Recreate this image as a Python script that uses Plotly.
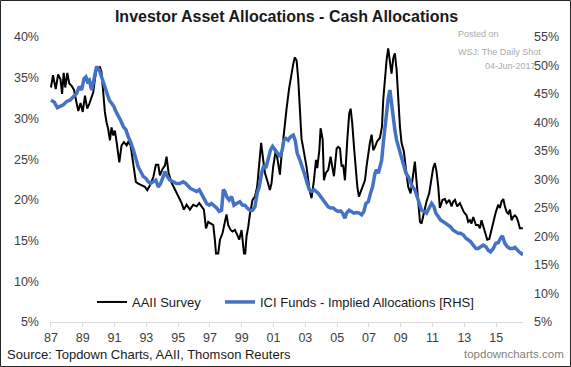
import plotly.graph_objects as go

# ---------------- data ----------------
aaii_year = [
    1987.00, 1987.13, 1987.30, 1987.45, 1987.60, 1987.70, 1987.80, 1987.90, 1988.03, 1988.15,
    1988.30, 1988.45, 1988.57, 1988.72, 1988.86, 1989.00, 1989.14, 1989.28, 1989.41, 1989.56,
    1989.66, 1989.77, 1989.87, 1990.08, 1990.18, 1990.29, 1990.39, 1990.50, 1990.60, 1990.71,
    1990.81, 1990.92, 1991.02, 1991.13, 1991.30, 1991.44, 1991.59, 1991.76, 1991.86, 1992.01,
    1992.13, 1992.22, 1992.34, 1992.49, 1992.70, 1992.91, 1993.06, 1993.23, 1993.44, 1993.60,
    1993.75, 1993.85, 1994.02, 1994.17, 1994.27, 1994.40, 1994.59, 1994.80, 1995.01, 1995.22,
    1995.36, 1995.53, 1995.74, 1995.95, 1996.16, 1996.33, 1996.47, 1996.62, 1996.75, 1996.89,
    1997.04, 1997.21, 1997.31, 1997.38, 1997.52, 1997.63, 1997.79, 1997.94, 1998.04, 1998.15,
    1998.30, 1998.42, 1998.57, 1998.72, 1998.84, 1998.99, 1999.14, 1999.22, 1999.30, 1999.41,
    1999.51, 1999.68, 1999.83, 1999.97, 2000.10, 2000.22, 2000.35, 2000.46, 2000.60, 2000.77,
    2000.87, 2000.98, 2001.15, 2001.30, 2001.40, 2001.50, 2001.65, 2001.82, 2001.98, 2002.13,
    2002.24, 2002.34, 2002.45, 2002.55, 2002.66, 2002.76, 2002.91, 2003.08, 2003.25, 2003.39,
    2003.54, 2003.67, 2003.75, 2003.88, 2003.96, 2004.09, 2004.17, 2004.29, 2004.44, 2004.59,
    2004.69, 2004.80, 2004.97, 2005.07, 2005.18, 2005.28, 2005.38, 2005.49, 2005.64, 2005.76,
    2005.85, 2005.95, 2006.06, 2006.16, 2006.27, 2006.37, 2006.47, 2006.60, 2006.75, 2006.85,
    2006.96, 2007.06, 2007.17, 2007.27, 2007.38, 2007.52, 2007.69, 2007.82, 2007.90, 2008.00,
    2008.11, 2008.21, 2008.32, 2008.42, 2008.53, 2008.63, 2008.74, 2008.84, 2008.95, 2009.05,
    2009.20, 2009.33, 2009.47, 2009.62, 2009.74, 2009.89, 2009.99, 2010.10, 2010.21, 2010.31,
    2010.46, 2010.62, 2010.79, 2010.94, 2011.04, 2011.15, 2011.25, 2011.36, 2011.46, 2011.63,
    2011.78, 2011.88, 2012.05, 2012.20, 2012.30, 2012.41, 2012.55, 2012.72, 2012.83, 2012.97,
    2013.14, 2013.24, 2013.35, 2013.45, 2013.56, 2013.73, 2013.87, 2013.98, 2014.08, 2014.19,
    2014.29, 2014.44, 2014.57, 2014.71, 2014.82, 2014.98, 2015.13, 2015.24, 2015.34, 2015.45,
    2015.55, 2015.66, 2015.76, 2015.87, 2015.97, 2016.07, 2016.18, 2016.28, 2016.39, 2016.49,
    2016.68,
]
aaii_cash = [
    33.8, 35.3, 33.6, 35.4, 34.8, 33.0, 35.6, 33.8, 35.6, 34.3,
    34.0, 33.5, 32.3, 30.9, 31.9, 30.8, 32.8, 31.2, 31.8, 32.6,
    33.2, 34.9, 36.1, 36.3, 35.7, 33.2, 30.8, 29.5, 28.7, 27.3,
    28.9, 27.9, 28.5, 27.1, 24.6, 26.7, 27.1, 26.7, 27.1, 26.7,
    25.1, 23.5, 22.2, 22.0, 21.8, 21.6, 21.2, 21.8, 22.8, 24.3,
    24.3, 23.0, 23.8, 24.2, 25.3, 23.3, 22.1, 21.3, 20.3, 19.6,
    18.8, 19.4, 18.8, 19.4, 19.2, 19.6, 19.2, 18.8, 16.5, 17.3,
    17.1, 16.9, 15.1, 13.4, 13.4, 15.1, 15.9, 17.3, 18.2, 16.9,
    16.3, 16.1, 16.3, 15.7, 15.1, 16.3, 13.4, 13.4, 15.5, 16.7,
    18.2, 20.0, 20.4, 21.6, 24.1, 27.0, 24.9, 23.3, 22.4, 21.2,
    22.0, 24.1, 26.2, 24.1, 23.1, 25.4, 28.3, 31.2, 33.7, 35.7,
    36.7, 37.5, 37.1, 34.9, 31.2, 27.5, 25.9, 24.0, 21.4, 20.2,
    22.4, 24.9, 23.9, 26.1, 28.8, 27.4, 22.4, 23.3, 23.7, 25.3,
    24.1, 22.9, 26.3, 26.5, 26.3, 24.1, 24.3, 22.4, 27.4, 30.6,
    31.2, 29.4, 26.5, 24.1, 21.6, 20.4, 21.0, 21.6, 22.4, 24.1,
    25.7, 27.0, 28.0, 26.1, 26.5, 27.2, 27.6, 29.0, 32.3, 35.1,
    37.2, 38.6, 36.6, 35.5, 37.4, 38.0, 36.0, 32.3, 29.0, 27.0,
    25.9, 23.7, 21.6, 20.8, 22.4, 24.7, 22.4, 19.2, 17.3, 17.1,
    18.6, 19.8, 20.8, 22.4, 23.9, 24.5, 23.5, 21.6, 19.0, 20.0,
    20.1, 19.6, 20.0, 19.2, 19.8, 20.0, 19.2, 19.6, 19.2, 18.5,
    18.1, 17.3, 17.5, 17.1, 17.9, 16.9, 16.9, 16.5, 17.5, 16.7,
    15.9, 15.1, 15.2, 16.3, 17.5, 18.5, 19.4, 19.0, 19.8, 20.1,
    19.2, 18.5, 18.3, 18.8, 17.5, 17.9, 18.1, 17.9, 17.3, 16.5,
    16.5,
]

ici_year = [
    1987.00, 1987.20, 1987.40, 1987.57, 1987.78, 1987.99, 1988.20, 1988.40, 1988.61, 1988.78,
    1988.93, 1989.08, 1989.20, 1989.29, 1989.41, 1989.56, 1989.66, 1989.77, 1989.87, 1990.04,
    1990.19, 1990.33, 1990.50, 1990.67, 1990.81, 1990.96, 1991.09, 1991.23, 1991.38, 1991.55,
    1991.72, 1991.86, 1992.01, 1992.18, 1992.35, 1992.49, 1992.64, 1992.81, 1992.97, 1993.12,
    1993.27, 1993.43, 1993.60, 1993.75, 1993.90, 1994.06, 1994.17, 1994.32, 1994.48, 1994.69,
    1994.90, 1995.11, 1995.32, 1995.49, 1995.64, 1995.78, 1995.95, 1996.16, 1996.33, 1996.47,
    1996.62, 1996.79, 1996.96, 1997.10, 1997.25, 1997.42, 1997.58, 1997.73, 1997.84, 1997.94,
    1998.05, 1998.21, 1998.36, 1998.51, 1998.67, 1998.88, 1999.05, 1999.20, 1999.35, 1999.51,
    1999.68, 1999.83, 1999.97, 2000.10, 2000.25, 2000.39, 2000.52, 2000.67, 2000.81, 2000.94,
    2001.09, 2001.23, 2001.40, 2001.55, 2001.65, 2001.78, 2001.92, 2002.07, 2002.24, 2002.36,
    2002.49, 2002.66, 2002.82, 2002.97, 2003.12, 2003.25, 2003.39, 2003.54, 2003.67, 2003.81,
    2003.96, 2004.13, 2004.29, 2004.44, 2004.59, 2004.76, 2004.92, 2005.07, 2005.22, 2005.34,
    2005.49, 2005.59, 2005.76, 2005.91, 2006.06, 2006.22, 2006.39, 2006.54, 2006.68, 2006.81,
    2006.96, 2007.10, 2007.23, 2007.38, 2007.48, 2007.59, 2007.69, 2007.80, 2007.90, 2008.00,
    2008.11, 2008.21, 2008.32, 2008.42, 2008.53, 2008.63, 2008.74, 2008.91, 2009.05, 2009.20,
    2009.33, 2009.47, 2009.62, 2009.74, 2009.89, 2010.04, 2010.16, 2010.31, 2010.46, 2010.62,
    2010.79, 2010.94, 2011.09, 2011.21, 2011.36, 2011.50, 2011.67, 2011.84, 2011.99, 2012.13,
    2012.30, 2012.47, 2012.62, 2012.76, 2012.93, 2013.10, 2013.24, 2013.39, 2013.56, 2013.73,
    2013.87, 2014.02, 2014.19, 2014.36, 2014.50, 2014.65, 2014.82, 2014.98, 2015.13, 2015.28,
    2015.40, 2015.55, 2015.70, 2015.87, 2016.03, 2016.18, 2016.33, 2016.45, 2016.60, 2016.68,
]
ici_cash = [
    43.9, 43.6, 42.6, 42.8, 43.1, 43.7, 43.9, 44.5, 45.1, 46.3,
    45.7, 47.7, 48.0, 47.2, 47.45, 45.7, 46.9, 48.6, 49.8, 49.2,
    48.0, 46.9, 45.1, 43.9, 43.4, 42.8, 41.9, 41.3, 40.4, 39.3,
    38.7, 37.5, 36.6, 35.2, 33.4, 32.2, 31.4, 30.5, 30.2, 29.6,
    29.3, 29.6, 29.9, 28.7, 29.3, 30.5, 31.4, 30.5, 29.9, 29.6,
    29.3, 29.3, 29.6, 29.3, 28.7, 28.4, 28.2, 27.9, 28.2, 27.6,
    26.7, 25.8, 25.5, 25.8, 25.5, 25.0, 24.4, 24.6, 28.2, 27.9,
    27.0, 26.4, 27.0, 25.5, 25.8, 26.1, 25.5, 25.5, 25.0, 24.6,
    24.6, 25.2, 27.6, 28.7, 31.1, 32.5, 32.0, 33.4, 35.2, 35.8,
    35.2, 34.6, 34.0, 35.2, 36.9, 37.2, 36.9, 37.5, 37.8, 36.9,
    34.6, 33.4, 32.2, 30.8, 29.3, 28.2, 27.9, 28.2, 27.9, 27.6,
    27.0, 26.4, 25.8, 25.2, 25.0, 25.0, 24.6, 24.4, 24.5, 24.1,
    23.2, 24.1, 24.6, 24.4, 24.1, 24.2, 24.1, 23.8, 24.4, 25.8,
    26.1, 27.6, 28.7, 31.1, 31.7, 31.1, 32.2, 33.4, 36.3, 39.3,
    42.8, 44.2, 45.7, 43.4, 40.4, 38.7, 36.9, 35.2, 33.4, 32.2,
    31.1, 30.5, 29.3, 28.7, 28.2, 27.0, 25.8, 24.6, 24.4, 24.1,
    25.0, 25.8, 25.2, 24.1, 23.5, 22.9, 22.6, 22.3, 22.0, 21.7,
    21.1, 20.8, 20.55, 20.55, 20.3, 19.7, 19.4, 19.1, 18.5, 17.9,
    17.9, 18.2, 18.5, 18.2, 17.6, 17.3, 17.9, 18.8, 18.9, 19.7,
    20.1, 18.8, 18.2, 17.9, 17.9, 18.1, 17.6, 17.3, 17.0, 16.75,
]

x_tick_years = list(range(1987, 2016, 2))
x_tick_labels = ["87", "89", "91", "93", "95", "97", "99", "01", "03", "05",
                 "07", "09", "11", "13", "15"]
left_ticks = [5, 10, 15, 20, 25, 30, 35, 40]
right_ticks = [5, 10, 15, 20, 25, 30, 35, 40, 45, 50, 55]

# ---------------- layout geometry (pixels) ----------------
W, H = 571, 367
L, R, T, B = 50, 48, 37, 45
PW, PH = W - L - R, H - T - B


def px(x):
    return (x - L) / PW


def py(y):
    return (H - B - y) / PH


FONT = "Liberation Sans, Arial, sans-serif"

fig = go.Figure()
fig.add_trace(go.Scatter(
    x=aaii_year, y=aaii_cash, name="AAII Survey", mode="lines",
    line=dict(color="#000000", width=2), yaxis="y", legend="legend"))
fig.add_trace(go.Scatter(
    x=ici_year, y=ici_cash, name="ICI Funds - Implied Allocations [RHS]", mode="lines",
    line=dict(color="#4472C4", width=3.5), yaxis="y2", legend="legend2"))

legend_common = dict(orientation="h", yanchor="middle", y=py(302), xanchor="left",
                     bgcolor="rgba(0,0,0,0)",
                     font=dict(family=FONT, size=13, color="#1a1a1a"))

fig.update_layout(
    width=W, height=H, autosize=False,
    margin=dict(l=L, r=R, t=T, b=B, pad=0),
    paper_bgcolor="white", plot_bgcolor="white",
    font=dict(family=FONT, size=13, color="#404040"),
    title=dict(text="<b>Investor Asset Allocations - Cash Allocations</b>",
               x=0.5, xref="paper", xanchor="center",
               y=1 - 16 / H, yref="container", yanchor="middle",
               font=dict(family=FONT, size=16, color="#1a1a1a")),
    xaxis=dict(range=[1986.94, 2016.69], tickmode="array", tickvals=x_tick_years,
               ticktext=x_tick_labels, showgrid=False, zeroline=False,
               showline=True, linecolor="#d9d9d9", linewidth=1,
               ticks="outside", ticklen=4, tickcolor="#d9d9d9",
               tickfont=dict(size=12.5, color="#404040")),
    yaxis=dict(range=[5, 40], tickmode="array", tickvals=left_ticks,
               ticktext=[f"{v}%" for v in left_ticks], showgrid=False,
               zeroline=False, showline=False, ticks="", ticklabelstandoff=10,
               tickfont=dict(size=12.5, color="#404040")),
    yaxis2=dict(range=[5, 55], tickmode="array", tickvals=right_ticks,
                ticktext=[f"{v}%" for v in right_ticks], overlaying="y",
                side="right", showgrid=False, zeroline=False, showline=False,
                ticks="", ticklabelstandoff=10,
                tickfont=dict(size=12.5, color="#404040")),
    legend=dict(x=px(92), **legend_common),
    legend2=dict(x=px(220), **legend_common),
    showlegend=True,
)

annots = [
    dict(text="Posted on", x=px(456), y=py(34), xanchor="left"),
    dict(text="WSJ: The Daily Shot", x=px(456), y=py(52), xanchor="left"),
    dict(text="04-Jun-2017", x=px(538), y=py(66), xanchor="right"),
]
for a in annots:
    fig.add_annotation(text=a["text"], x=a["x"], y=a["y"], xref="paper", yref="paper",
                       xanchor=a["xanchor"], yanchor="middle", showarrow=False,
                       font=dict(family=FONT, size=9, color="#ababab"))

fig.add_annotation(text="Source: Topdown Charts, AAII, Thomson Reuters",
                   x=px(5), y=py(354), xref="paper", yref="paper", xanchor="left",
                   yanchor="middle", showarrow=False,
                   font=dict(family=FONT, size=13, color="#1a1a1a"))
fig.add_annotation(text="topdowncharts.com", x=px(566), y=py(354), xref="paper",
                   yref="paper", xanchor="right", yanchor="middle", showarrow=False,
                   font=dict(family=FONT, size=11.5, color="#7f7f7f"))

# outer frame
fig.add_shape(type="rect", xref="paper", yref="paper",
              x0=px(0.5), x1=px(W - 0.5), y0=py(H - 0.5), y1=py(0.5),
              line=dict(color="#262626", width=1), fillcolor="rgba(0,0,0,0)",
              layer="above")

fig.write_html(
    "out.html",
    config={"displayModeBar": False},
    post_script="document.body.style.margin='0px';document.body.style.padding='0px';",
)
